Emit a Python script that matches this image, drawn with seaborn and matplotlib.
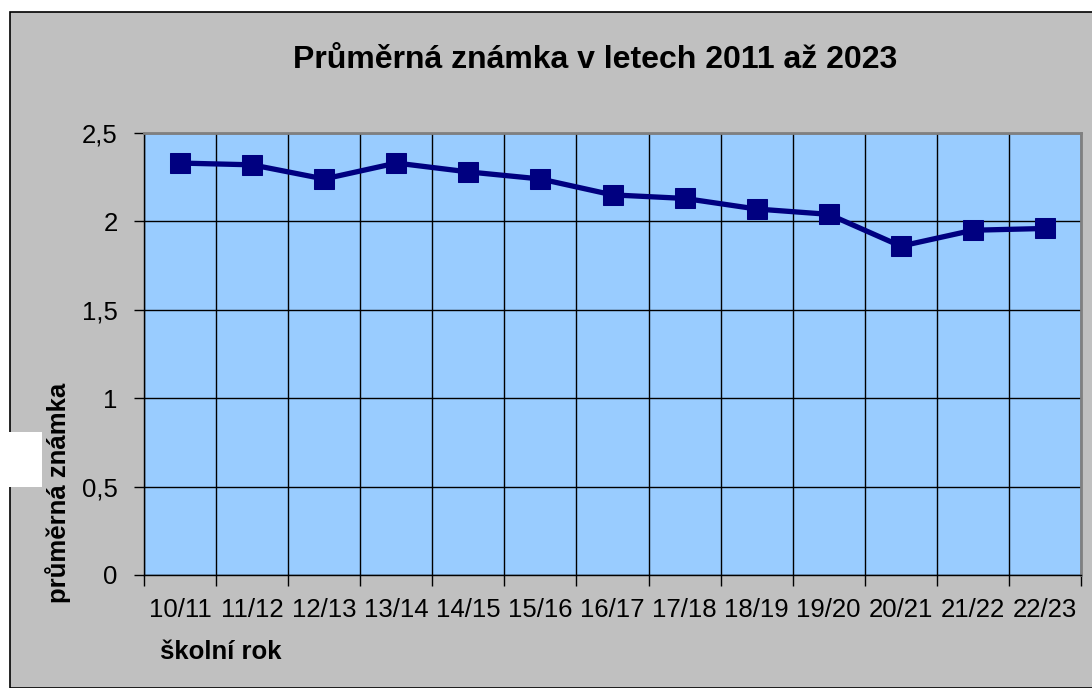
import matplotlib
matplotlib.use("Agg")
import matplotlib.pyplot as plt
import seaborn as sns
import pandas as pd
from matplotlib.ticker import FixedLocator, FuncFormatter
from matplotlib.patches import Rectangle

# school years and average grade
years = ["10/11", "11/12", "12/13", "13/14", "14/15", "15/16", "16/17",
         "17/18", "18/19", "19/20", "20/21", "21/22", "22/23"]
grades = [2.33, 2.32, 2.24, 2.33, 2.28, 2.24, 2.15, 2.13, 2.07, 2.04, 1.86, 1.95, 1.96]
y_ticks = [0, 0.5, 1, 1.5, 2, 2.5]

df = pd.DataFrame({"rok": years, "znamka": grades})

sns.set_style("white")
plt.rcParams["font.family"] = ["Liberation Sans", "DejaVu Sans"]
plt.rcParams["text.color"] = "black"
plt.rcParams["xtick.color"] = "black"
plt.rcParams["ytick.color"] = "black"

fig = plt.figure(figsize=(10.92, 6.88), dpi=100)
fig.patch.set_facecolor("white")

# gray chart area with black border
W, H = 1092, 688
fig.patches.append(Rectangle((10 / W, 0), 1.2, (H - 12) / H, transform=fig.transFigure,
                             facecolor="#c0c0c0", edgecolor="#000000", lw=1.2, zorder=-10))
# white block on the left edge
fig.patches.append(Rectangle((0, (H - 487) / H), 42 / W, 55 / H, transform=fig.transFigure,
                             facecolor="white", edgecolor="none", zorder=-5))

ax = fig.add_axes([144 / W, (H - 575) / H, (1081 - 144) / W, (575 - 133) / H])
ax.set_zorder(2)
ax.set_facecolor("#99ccff")

x = list(range(len(years)))
sns.lineplot(x=x, y=df["znamka"], ax=ax, color="#000080", lw=3.8, marker="s",
             markersize=15, markeredgecolor="#000080", zorder=5)

ax.set_xlim(-0.5, len(years) - 0.5)
ax.set_ylim(0, 2.5)

# Excel-style category axis: ticks between categories, labels centered
ax.xaxis.set_major_locator(FixedLocator([i - 0.5 for i in range(len(years) + 1)]))
ax.xaxis.set_major_formatter(FuncFormatter(lambda v, p: ""))
ax.xaxis.set_minor_locator(FixedLocator(x))
ax.set_xticklabels(years, minor=True)
ax.tick_params(axis="x", which="major", length=8, width=1, color="black", direction="out", bottom=True)
ax.tick_params(axis="x", which="minor", length=0, labelsize=18.5, pad=16.5)

ax.set_yticks(y_ticks)
ax.yaxis.set_major_formatter(FuncFormatter(lambda v, p: ("%g" % v).replace(".", ",")))
ax.tick_params(axis="y", length=7, width=1, color="black", direction="out", left=True,
               labelsize=18.5, pad=12)

ax.grid(True, which="major", color="black", lw=1)
ax.set_axisbelow(True)

for side in ["top", "right"]:
    ax.spines[side].set_color("#808080")
    ax.spines[side].set_linewidth(2)
for side in ["left", "bottom"]:
    ax.spines[side].set_color("black")
    ax.spines[side].set_linewidth(1)

ax.set_xlabel("")
ax.set_ylabel("")

fig.text(595 / W, (H - 60) / H, "Průměrná známka v letech 2011 až 2023", ha="center", va="center",
         fontsize=23, fontweight="bold")
fig.text(58 / W, (H - 493) / H, "průměrná známka", rotation=90, ha="center", va="center",
         fontsize=18.5, fontweight="bold")
fig.text(160 / W, (H - 652) / H, "školní rok", ha="left", va="center",
         fontsize=18.5, fontweight="bold")

fig.savefig("out.png", dpi=100, facecolor=fig.get_facecolor())
